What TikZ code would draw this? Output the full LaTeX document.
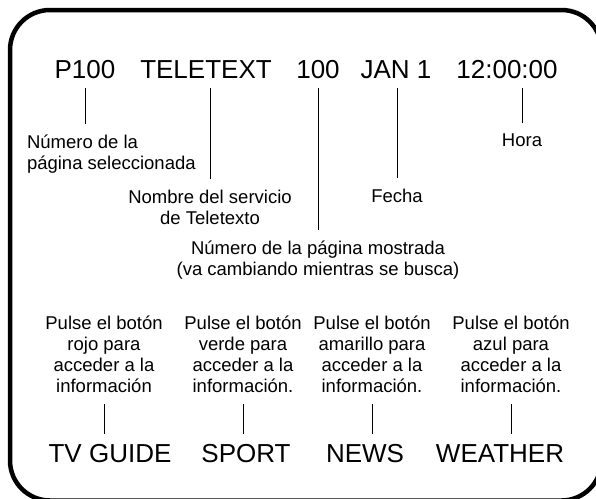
\documentclass[tikz,border=0pt]{standalone}
\usepackage{fontspec}
\setmainfont{Liberation Sans}
\usepackage{tikz}
\usetikzlibrary{calc}

\begin{document}
\begin{tikzpicture}[x=1pt, y=-1pt, line join=round,
  item/.style={font=\fontsize{26}{30}\selectfont, inner sep=0pt, outer ysep=10pt, anchor=base},
  lbl/.style={font=\fontsize{18.5}{21}\selectfont, align=center, inner sep=0pt, outer xsep=0pt, outer ysep=11pt},
  lead/.style={line width=0.9pt}]
  \useasboundingbox (0,0) rectangle (596,498);
  \draw[line width=4.5pt, rounded corners=40pt] (10,10) rectangle (601.5,500.5);
  \node[item] (pnum) at (85,78) {P100};
  \node[item] (name) at (206,78) {TELETEXT};
  \node[item] (shown) at (318,78) {100};
  \node[item] (date) at (396,78) {JAN 1};
  \node[item] (clock) at (507,78) {12:00:00};
  \node[lbl, align=left, anchor=north west] (pnumlbl) at (27,124) {Número de la\\página seleccionada};
  \node[lbl, anchor=north] (namelbl) at (210,179) {Nombre del servicio\\de Teletexto};
  \node[lbl, anchor=north] (shownlbl) at (318,230) {Número de la página mostrada\\(va cambiando mientras se busca)};
  \node[lbl, anchor=north] (datelbl) at (397,178) {Fecha};
  \node[lbl, anchor=north] (clocklbl) at (522,123) {Hora};
  \draw[lead] (pnum.south) -- (pnum.south |- pnumlbl.north);
  \draw[lead] (namelbl.north) -- (namelbl.north |- name.south);
  \draw[lead] (shown.south) -- (shownlbl.north);
  \draw[lead] (datelbl.north) -- (datelbl.north |- date.south);
  \draw[lead] (clocklbl.north) -- (clocklbl.north |- clock.south);
  \node[lbl, anchor=south] (redlbl) at (104,404) {Pulse el botón\\rojo para\\acceder a la\\información};
  \node[lbl, anchor=south] (greenlbl) at (243,404) {Pulse el botón\\verde para\\acceder a la\\información.};
  \node[lbl, anchor=south] (yellowlbl) at (372,404) {Pulse el botón\\amarillo para\\acceder a la\\información.};
  \node[lbl, anchor=south] (bluelbl) at (511,404) {Pulse el botón\\azul para\\acceder a la\\información.};
  \node[item] (guide) at (110,462) {TV GUIDE};
  \node[item] (sport) at (246,462) {SPORT};
  \node[item] (news) at (365,462) {NEWS};
  \node[item] (weather) at (500,462) {WEATHER};
  \draw[lead] (redlbl.south) -- (redlbl.south |- guide.north);
  \draw[lead] (greenlbl.south) -- (greenlbl.south |- sport.north);
  \draw[lead] (yellowlbl.south) -- (yellowlbl.south |- news.north);
  \draw[lead] (bluelbl.south) -- (bluelbl.south |- weather.north);
\end{tikzpicture}
\end{document}
